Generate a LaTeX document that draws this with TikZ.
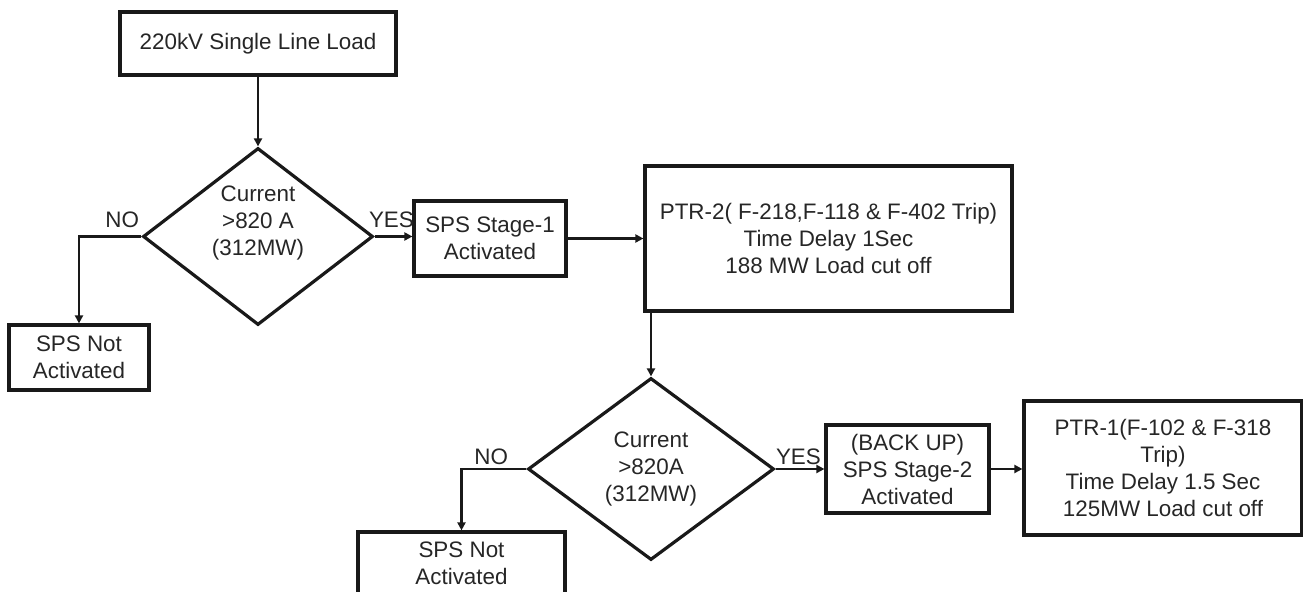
\documentclass[tikz,border=0pt]{standalone}
\usepackage{fontspec}
\setmainfont{Liberation Sans}
\usetikzlibrary{shapes.geometric, positioning, arrows.meta}

\begin{document}
\begin{tikzpicture}[
  x=0.5pt, y=-0.5pt,
  font=\fontsize{11.2}{13.5}\selectfont,
  text=black!85,
  procnode/.style={rectangle, draw=black!90, line width=1.6pt, align=center, inner sep=2pt},
  decnode/.style={diamond, draw=black!90, line width=1.6pt, inner sep=0pt, align=center},
  lbl/.style={inner sep=1pt},
  flow/.style={draw=black!90, line width=1.2pt, -{Triangle[length=4pt, width=4pt]}}
]

\useasboundingbox (0,0) rectangle (1303,592);

% -------------------------
% Stage 1 branch
% -------------------------

\node[procnode, minimum width=138pt, minimum height=31.5pt] (load) at (258,43.5) {220kV Single Line Load};
\node[decnode, minimum width=115pt, minimum height=88.5pt] (cur1) at (258,236.5) {};
\node[align=center] (cur1txt) at (258,223.3) {Current\\>820 A\\(312MW)};
\node[procnode, minimum width=70pt, minimum height=32.5pt] (na1) at (79,357.5) {SPS Not\\Activated};
\node[procnode, minimum width=76pt, minimum height=37.5pt] (st1) at (490,238.5) {SPS Stage-1\\Activated};
\node[procnode, minimum width=183.5pt, minimum height=72.5pt] (ptr2) at (828.5,238.5)
  {PTR-2( F-218,F-118 \& F-402 Trip)\\Time Delay 1Sec\\188 MW Load cut off};

% -------------------------
% Stage 2 branch
% -------------------------

\node[decnode, minimum width=123pt, minimum height=91pt] (cur2) at (651,469) {Current\\>820A\\(312MW)};
\node[procnode, minimum width=103.5pt, minimum height=31.5pt] (na2) at (461.5,563.5) {SPS Not\\Activated};
\node[procnode, minimum width=81.5pt, minimum height=44pt] (st2) at (907.5,469) {(BACK UP)\\SPS Stage-2\\Activated};
\node[procnode, minimum width=139pt, minimum height=67pt] (ptr1) at (1163,468)
  {PTR-1(F-102 \& F-318\\Trip)\\Time Delay 1.5 Sec\\125MW Load cut off};

% -------------------------
% Connectors
% -------------------------

\draw[flow] (load) -- (cur1);
\draw[flow] (cur1.west) -| (na1.north);
\draw[flow] (cur1.east) -- (cur1.east -| st1.west);
\draw[flow] (st1.east) -- (st1.east -| ptr2.west);
\draw[flow] (cur2.north |- ptr2.south) -- (cur2.north);
\draw[flow] (cur2.west) -| (na2.north);
\draw[flow] (cur2.east) -- (cur2.east -| st2.west);
\draw[flow] (st2.east) -- (st2.east -| ptr1.west);

% -------------------------
% YES / NO labels
% -------------------------

\node[lbl, above left=3pt and 0pt of cur1.west] {NO};
\node[lbl, above right=3pt and -4pt of cur1.east] {YES};
\node[lbl, above left=1pt and 8pt of cur2.west] {NO};
\node[lbl, above right=1pt and -1pt of cur2.east] {YES};

\end{tikzpicture}
\end{document}
